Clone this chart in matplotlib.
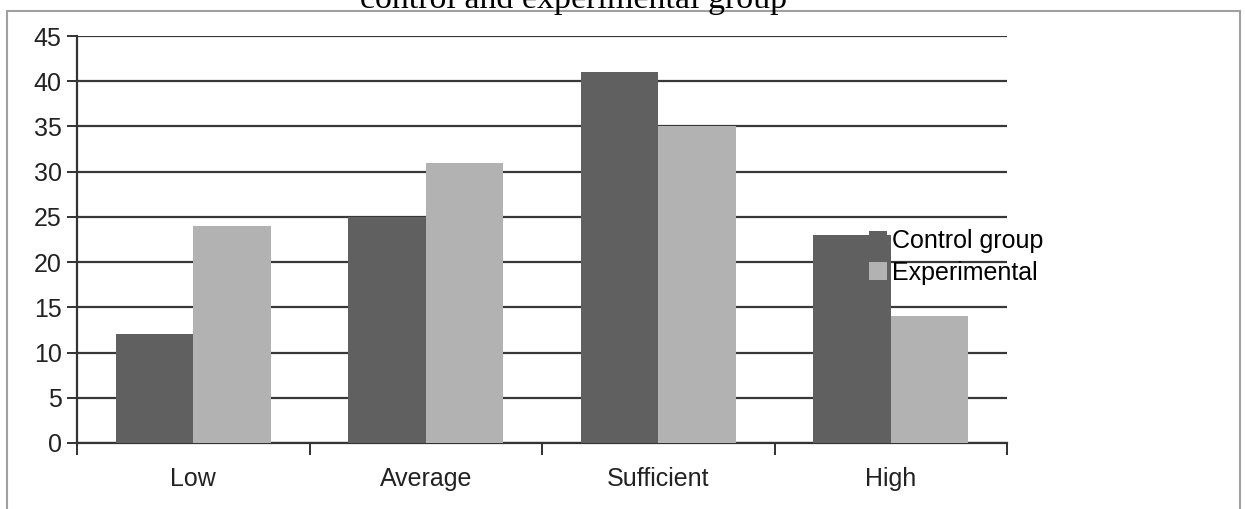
import numpy as np
import matplotlib.pyplot as plt
from matplotlib.patches import Rectangle

# data
categories = ["Low", "Average", "Sufficient", "High"]
control = [12, 25, 41, 23]
experimental = [24, 31, 35, 14]
series_names = ["Control group", "Experimental"]
title_text = "control and experimental group"

W, H = 1245, 509
fig = plt.figure(figsize=(W / 100, H / 100), dpi=100)
ax = fig.add_axes([77 / W, 1 - 443 / H, (1007 - 77) / W, (443 - 36) / H])

x = np.arange(len(categories))
bw = 1 / 3
ax.bar(x - bw / 2, control, width=bw, color="#606060", label=series_names[0], zorder=3)
ax.bar(x + bw / 2, experimental, width=bw, color="#b2b2b2", label=series_names[1], zorder=3)

ax.set_xlim(-0.5, len(categories) - 0.5)
ax.set_ylim(0, 45)
ax.set_yticks(np.arange(0, 46, 5))
ax.yaxis.grid(True, color="#383838", linewidth=1.6, zorder=0)
ax.set_axisbelow(True)

ax.set_xticks(x)
ax.set_xticklabels(categories)
ax.set_xticks(np.arange(-0.5, len(categories), 1), minor=True)
ax.tick_params(axis="x", which="major", length=0, pad=17, labelsize=18, labelcolor="#222222")
ax.tick_params(axis="x", which="minor", length=8.5, width=1.3, color="#222222")
ax.tick_params(axis="y", length=7.5, width=1.3, color="#222222", pad=3.5, labelsize=18, labelcolor="#222222")
for lab in ax.get_xticklabels() + ax.get_yticklabels():
    lab.set_fontfamily("Liberation Sans")

for s in ["top", "right"]:
    ax.spines[s].set_visible(False)
for s in ["left", "bottom"]:
    ax.spines[s].set_color("#333333")
    ax.spines[s].set_linewidth(1.6)

ax.legend(loc="upper left", bbox_to_anchor=(869 / W, 1 - 229 / H), bbox_transform=fig.transFigure,
          frameon=False, handlelength=0.7, handleheight=0.7, handletextpad=0.2,
          labelspacing=0.31, borderpad=0, borderaxespad=0,
          prop={"family": "Liberation Sans", "size": 18})

# outer frame
fig.patches.append(Rectangle((7 / W, -0.05), (1240 - 7) / W, 1.05 - 11 / H,
                             transform=fig.transFigure, fill=False,
                             edgecolor="#a0a0a0", linewidth=1.5))

fig.text(574 / W, 1 - 8 / H, title_text, ha="center", va="baseline",
         fontsize=24.5, family="Liberation Serif", color="black")

fig.savefig("out.png", dpi=100)
